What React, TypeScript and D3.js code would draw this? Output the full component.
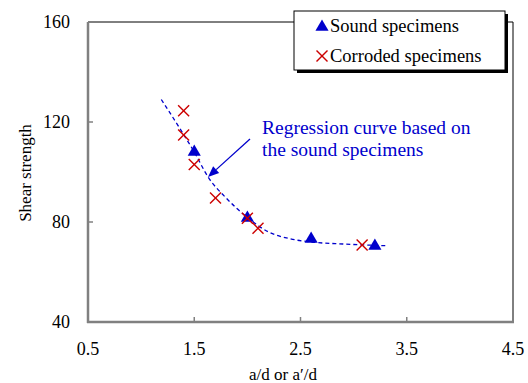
import React from 'react'
import * as d3 from 'd3'

// values
const soundX = [1.5, 2.0, 2.6, 3.2]
const soundY = [108, 81.6, 73.2, 70.4]

const corrodedX = [1.4, 1.4, 1.5, 1.7, 2.0, 2.1, 3.08]
const corrodedY = [124.5, 114.8, 103, 89.6, 81.5, 77.5, 70.8]

// regression curve
const curveX = [1.19, 1.4, 1.5, 1.63, 1.8, 2.0, 2.2, 2.4, 2.6, 2.9, 3.31]
const curveY = [129, 115, 108, 98, 89.6, 81.8, 76, 73.3, 72, 71.2, 70.5]

const xTicks = [0.5, 1.5, 2.5, 3.5, 4.5]
const yTicks = [40, 80, 120, 160]

const W = 528
const H = 383
const margin = { top: 22, right: 15, bottom: 61, left: 88 }
const FONT = 'Liberation Serif, Times New Roman, serif'
const BLUE = '#0000CC'
const RED = '#CC0000'

const App = () => {
  const x = d3.scaleLinear().domain([0.5, 4.5]).range([margin.left, W - margin.right])
  const y = d3.scaleLinear().domain([40, 160]).range([H - margin.bottom, margin.top])

  const x0 = x(0.5)
  const x1 = x(4.5)
  const y0 = y(40)
  const y1 = y(160)

  const line = d3.line<number>()
    .x(i => x(curveX[i]))
    .y(i => y(curveY[i]))
    .curve(d3.curveMonotoneX)
  const curvePath = line(curveX.map((_, i) => i)) || ''

  const tri = d3.symbol().type(d3.symbolTriangle).size(75)()

  const cross = (cx: number, cy: number, s: number, key: string | number) => (
    <g key={key} stroke={RED} strokeWidth={1.4}>
      <line x1={cx - s} y1={cy - s} x2={cx + s} y2={cy + s} />
      <line x1={cx - s} y1={cy + s} x2={cx + s} y2={cy - s} />
    </g>
  )

  // annotation arrow
  const ax1 = 250, ay1 = 139, ax2 = 208, ay2 = 177
  const ang = Math.atan2(ay2 - ay1, ax2 - ax1)
  const hl = 11, hw = 4.5
  const bx = ax2 - hl * Math.cos(ang), by = ay2 - hl * Math.sin(ang)
  const head = `M${ax2},${ay2}L${bx + hw * Math.sin(ang)},${by - hw * Math.cos(ang)}L${bx - hw * Math.sin(ang)},${by + hw * Math.cos(ang)}Z`

  return (
    <div style={{ position: 'absolute', left: 0, top: 0 }}>
      <svg width={W} height={H} style={{ display: 'block', background: '#fff' }}>
        {/* frame */}
        <line x1={x0} y1={y1} x2={x1} y2={y1} stroke="#000" strokeWidth={1} />
        <line x1={x1} y1={y1} x2={x1} y2={y0} stroke="#000" strokeWidth={1} />
        <line x1={x0} y1={y1} x2={x0} y2={y0 + 1} stroke="#808080" strokeWidth={2.5} />
        <line x1={x0 - 1} y1={y0} x2={x1 + 1} y2={y0} stroke="#808080" strokeWidth={2.5} />

        {/* ticks */}
        {yTicks.map(t => (
          <g key={'y' + t}>
            <line x1={x0} x2={x0 + 5} y1={y(t)} y2={y(t)} stroke="#808080" strokeWidth={1.5} />
            <text x={x0 - 18} y={y(t)} dy="0.35em" textAnchor="end" fontFamily={FONT} fontSize={18}>{t}</text>
          </g>
        ))}
        {xTicks.map(t => (
          <g key={'x' + t}>
            <line x1={x(t)} x2={x(t)} y1={y0} y2={y0 - 5} stroke="#808080" strokeWidth={1.5} />
            <text x={x(t)} y={355} textAnchor="middle" fontFamily={FONT} fontSize={18}>{d3.format('.1f')(t)}</text>
          </g>
        ))}

        {/* axis titles */}
        <text x={283} y={380} textAnchor="middle" fontFamily={FONT} fontSize={17}>a/d or a′/d</text>
        <text transform={`translate(31,${173}) rotate(-90)`} textAnchor="middle" fontFamily={FONT} fontSize={17}>Shear strength</text>

        {/* regression curve */}
        <path d={curvePath} fill="none" stroke={BLUE} strokeWidth={1.3} strokeDasharray="4,3" />

        {/* sound specimens */}
        {soundX.map((v, i) => (
          <path key={'s' + i} d={tri || ''} transform={`translate(${x(v)},${y(soundY[i])})`} fill={BLUE} />
        ))}

        {/* corroded specimens */}
        {corrodedX.map((v, i) => cross(x(v), y(corrodedY[i]), 5.5, 'c' + i))}

        {/* annotation */}
        <line x1={ax1} y1={ay1} x2={bx} y2={by} stroke={BLUE} strokeWidth={1.3} />
        <path d={head} fill={BLUE} />
        <text x={262} y={134} fontFamily={FONT} fontSize={19.5} fill={BLUE}>Regression curve based on</text>
        <text x={262} y={156} fontFamily={FONT} fontSize={19.5} fill={BLUE}>the sound specimens</text>

        {/* legend */}
        <rect x={297} y={14} width={211} height={59} fill="#000" />
        <rect x={294} y={11} width={211} height={59} fill="#fff" stroke="#000" strokeWidth={1} />
        <path d={tri || ''} transform={`translate(${322},${27})`} fill={BLUE} />
        <text x={330} y={32} fontFamily={FONT} fontSize={18.5}>Sound specimens</text>
        {cross(322, 56, 5.5, 'leg')}
        <text x={330} y={62} fontFamily={FONT} fontSize={18.5}>Corroded specimens</text>
      </svg>
    </div>
  )
}

export default App
